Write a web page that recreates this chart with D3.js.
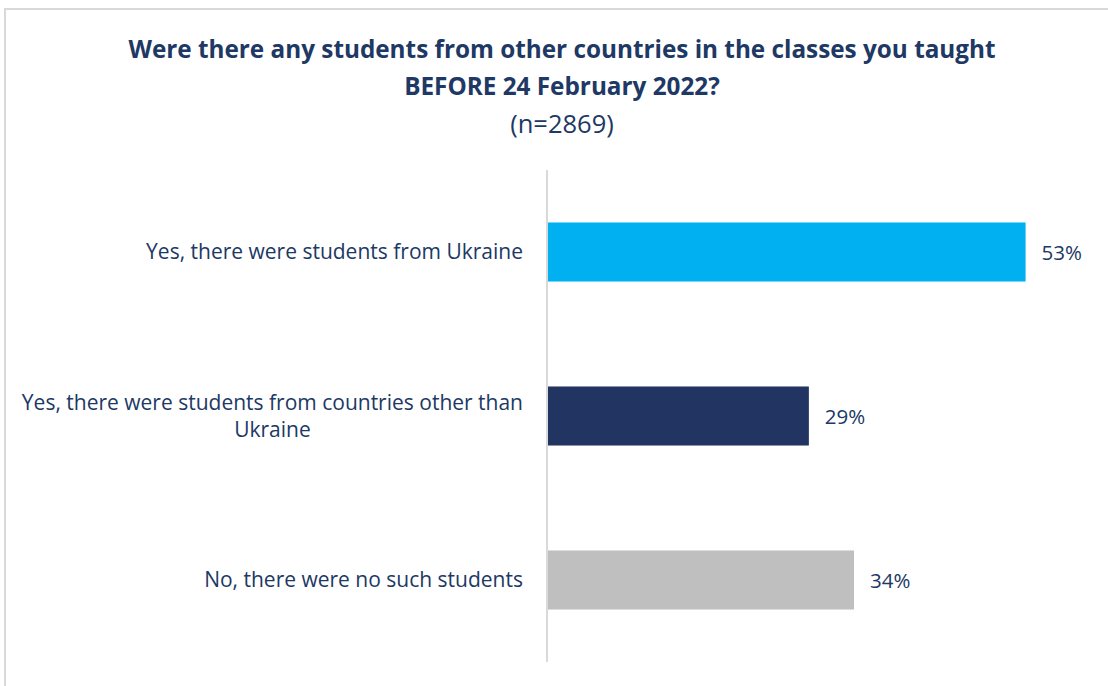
<!DOCTYPE html>
<html>
<head>
<meta charset="utf-8">
<script src="https://cdn.jsdelivr.net/npm/d3@7"></script>
<style>
  html, body { margin: 0; padding: 0; background: #fff; }
  svg { display: block; font-family: "Open Sans", Lato, sans-serif; }
</style>
</head>
<body>
<svg id="chart" width="1108" height="686"></svg>
<script>
// Survey answers and their shares (%)
const categories = [
  ["Yes, there were students from Ukraine"],
  ["Yes, there were students from countries other than", "Ukraine"],
  ["No, there were no such students"]
];
const values = [53, 29, 34];
const colors = ["#00b0f0", "#223562", "#bfbfbf"];
const titleLines = [
  "Were there any students from other countries in the classes you taught",
  "BEFORE 24 February 2022?"
];
const subtitle = "(n=2869)";

const svg = d3.select("#chart");
const navy = "#203864";

// Frame around the chart
svg.append("rect")
  .attr("x", 5).attr("y", 9)
  .attr("width", 1120).attr("height", 700)
  .attr("fill", "none")
  .attr("stroke", "#d9d9d9")
  .attr("stroke-width", 2);

// Title
const cx = 562;
titleLines.forEach((t, i) => {
  svg.append("text")
    .attr("x", cx).attr("y", 57.5 + i * 37)
    .attr("text-anchor", "middle")
    .attr("font-size", 24.3)
    .attr("font-weight", 700)
    .attr("fill", navy)
    .text(t);
});
svg.append("text")
  .attr("x", cx).attr("y", 133)
  .attr("text-anchor", "middle")
  .attr("font-size", 25.5)
  .attr("fill", navy)
  .text(subtitle);

// Scales
const x0 = 547;
const x = d3.scaleLinear().domain([0, 100]).range([x0, x0 + 903]);
const y = d3.scaleBand()
  .domain(d3.range(values.length))
  .range([170, 662])
  .paddingInner(0.64)
  .paddingOuter(0.32);

// Bars
svg.append("g").selectAll("rect")
  .data(values)
  .join("rect")
  .attr("x", x(0))
  .attr("y", (d, i) => y(i))
  .attr("width", d => x(d) - x(0))
  .attr("height", y.bandwidth())
  .attr("fill", (d, i) => colors[i]);

// Category axis line
svg.append("line")
  .attr("x1", x0).attr("x2", x0)
  .attr("y1", 170).attr("y2", 662)
  .attr("stroke", "#d9d9d9")
  .attr("stroke-width", 2);

// Value labels
svg.append("g").selectAll("text")
  .data(values)
  .join("text")
  .attr("x", d => x(d) + 16)
  .attr("y", (d, i) => y(i) + y.bandwidth() / 2)
  .attr("dy", "0.38em")
  .attr("font-size", 20.5)
  .attr("fill", navy)
  .text(d => d + "%");

// Category labels, wrapped lines centred on the longest line
const labelRight = 523;
const lineH = 27;
categories.forEach((lines, i) => {
  const g = svg.append("g");
  const cy = y(i) + y.bandwidth() / 2;
  const texts = lines.map((l, j) => g.append("text")
    .attr("y", cy + (j - (lines.length - 1) / 2) * lineH)
    .attr("dy", "0.35em")
    .attr("font-size", 21)
    .attr("fill", navy)
    .text(l));
  const maxW = d3.max(texts, t => t.node().getComputedTextLength());
  texts.forEach(t => {
    if (lines.length > 1) {
      t.attr("x", labelRight - maxW / 2).attr("text-anchor", "middle");
    } else {
      t.attr("x", labelRight).attr("text-anchor", "end");
    }
  });
});
</script>
</body>
</html>
